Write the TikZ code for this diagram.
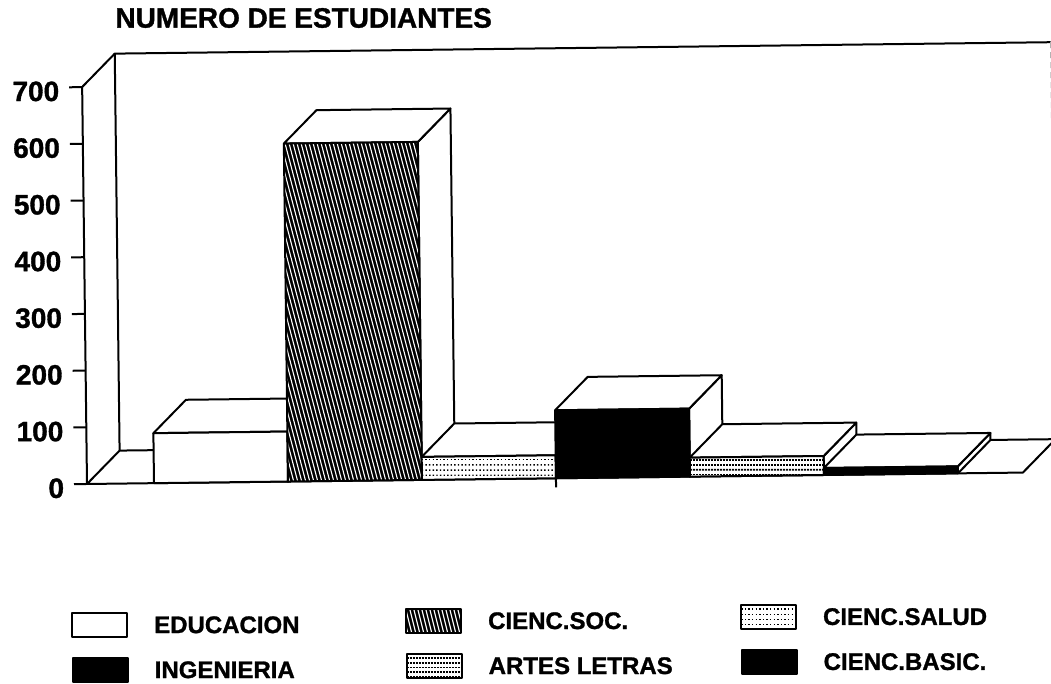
\documentclass[tikz,border=0pt]{standalone}
\usepackage{fontspec}
\setmainfont{Liberation Sans}[BoldFeatures={FakeBold=1.2}]
\usetikzlibrary{positioning}

\tikzset{
  white bar/.style={draw,fill=white},
  black bar/.style={draw,fill=black},
  hatch bar/.style={draw,fill=black,path picture={
      \foreach \k in {-45,...,22}
        \draw[white,line width=0.55pt] ([xshift=\k*2pt]path picture bounding box.north) -- ++(45pt,-180pt);
    }},
  dot bar/.style={draw,fill=white,path picture={
      \foreach \k in {1,...,30}
        \draw[line width=0.7pt,dash pattern=on 0.7pt off 1.1pt]
          ([yshift=-\k*2.6pt+0.4pt]path picture bounding box.north west) --
          ([yshift=-\k*2.6pt+0.4pt]path picture bounding box.north east);
    }},
  stripe bar/.style={draw,fill=white,path picture={
      \foreach \k in {1,...,30}
        \draw[line width=0.9pt,dash pattern=on 1pt off 0.5pt]
          ([yshift=-\k*2.4pt+0.3pt]path picture bounding box.north west) --
          ([yshift=-\k*2.4pt+0.3pt]path picture bounding box.north east);
    }}
}

\begin{document}
\begin{tikzpicture}[x=0.5pt,y=0.5pt,line width=1pt,line join=round,
    axis label/.style={font=\fontsize{14}{16}\selectfont\bfseries,anchor=east,inner sep=0pt},
    key box/.style={rectangle,minimum width=27.5pt,minimum height=12pt,inner sep=0pt},
    key text/.style={font=\fontsize{12}{14}\selectfont\bfseries,inner sep=0pt},
    node distance=12.5pt]
\useasboundingbox (0,0) rectangle (1051,684);
\begin{scope}[shift={(87,200)},rotate=0.7]
  % side wall, back wall and floor
  \draw (-13,0) -- (936,0) -- (969,33) -- (33,33) -- (0,0);
  \draw (0,0) -- (0,397) -- (33,430) -- (969,430);
  \draw (33,33) -- (33,430);
  \draw[gray!60,line width=0.6pt,dash pattern=on 3pt off 2pt] (969,430) -- (969,307);
  % scale
  \foreach \v in {100,200,...,700}
    \draw (-13,{\v*0.567}) -- (0,{\v*0.567});
  \foreach \v in {0,100,...,700}
    \node[axis label] (lab\v) at (-22,{\v*0.567-4}) {\v};
  \draw (469,0) -- (469,-9);
  \node[font=\fontsize{14}{16}\selectfont\bfseries,anchor=base west,inner sep=0pt] (title) at (33,456) {NUMERO DE ESTUDIANTES};
  % bars: left edge / height / face
  \foreach \x/\h/\kind in {67/50/white bar,201/338/hatch bar,335/23/dot bar,469/68/black bar,603/19/stripe bar,737/7/black bar}{
    \draw[fill=white] ({\x+134},0) -- ++(33,33) -- ++(0,\h) -- ({\x+134},\h) -- cycle;
    \draw[fill=white] (\x,\h) -- ++(33,33) -- ++(134,0) -- ({\x+134},\h) -- cycle;
    \draw[\kind] (\x,0) rectangle ++(134,\h);
  }
  % legend
  \node[key box,white bar] (edu box) at (11,-141) {};
  \node[key text,right=of edu box] (edu text) {EDUCACION};
  \node[key box,black bar] (ing box) at (11,-186) {};
  \node[key text,right=of ing box] (ing text) {INGENIERIA};
  \node[key box,hatch bar] (soc box) at (345,-141) {};
  \node[key text,right=of soc box] (soc text) {CIENC.SOC.};
  \node[key box,stripe bar] (art box) at (345,-186) {};
  \node[key text,right=of art box] (art text) {ARTES LETRAS};
  \node[key box,dot bar] (sal box) at (680,-141) {};
  \node[key text,right=of sal box] (sal text) {CIENC.SALUD};
  \node[key box,black bar] (bas box) at (680,-186) {};
  \node[key text,right=of bas box] (bas text) {CIENC.BASIC.};
\end{scope}
\end{tikzpicture}
\end{document}
